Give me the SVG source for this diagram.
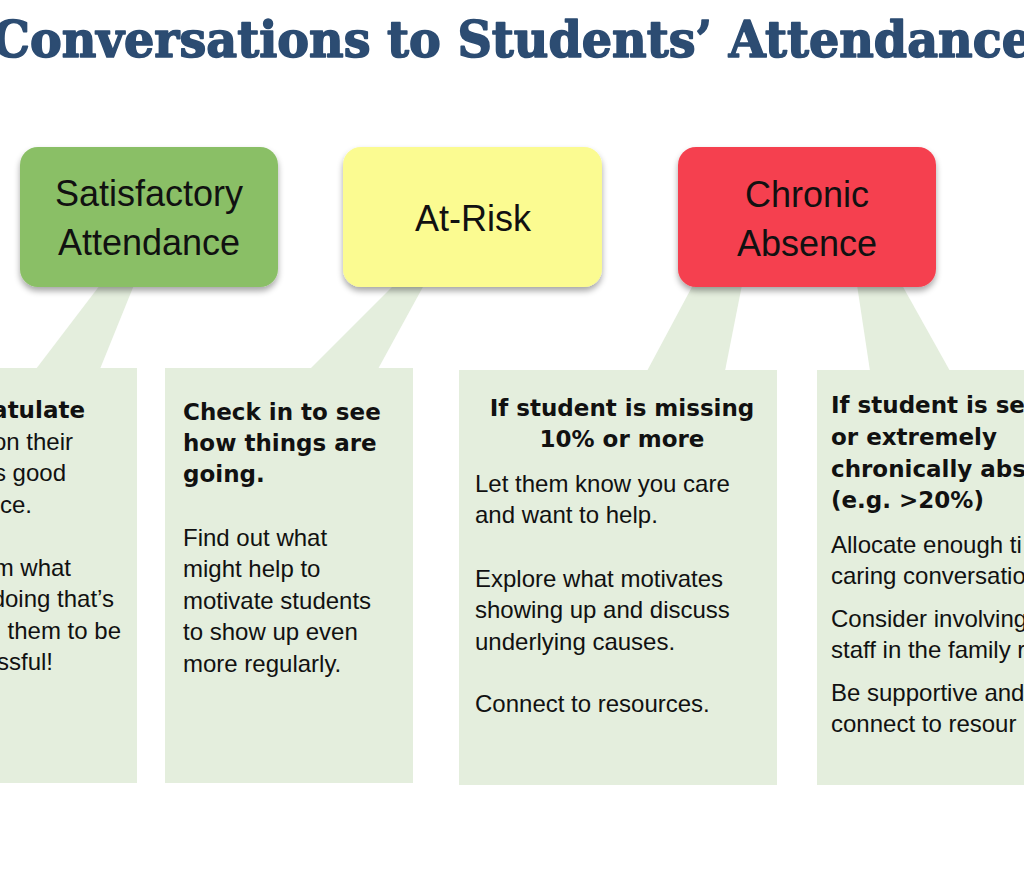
<svg xmlns="http://www.w3.org/2000/svg" width="1024" height="891" viewBox="0 0 1024 891">
<defs>
<filter id="sh" x="-10%" y="-10%" width="120%" height="130%">
<feGaussianBlur in="SourceAlpha" stdDeviation="3"/>
<feOffset dy="4" result="b"/>
<feComponentTransfer><feFuncA type="linear" slope="0.35"/></feComponentTransfer>
<feMerge><feMergeNode/><feMergeNode in="SourceGraphic"/></feMerge>
</filter>
<style>
.title{font-family:"DejaVu Serif","Liberation Serif",serif;font-weight:bold;font-size:50px;fill:#2C4C72;stroke:#2C4C72;stroke-width:1.6px;stroke-linejoin:round}
.lbl{font-family:"Liberation Sans",Arial,sans-serif;font-size:36px;fill:#111;text-anchor:middle}
.panel{fill:#E4EEDD}
.conn{fill:#E4EEDD}
.b{font-family:"DejaVu Sans","Liberation Sans",sans-serif;font-weight:bold;font-size:23px;fill:#111}
.r{font-family:"Liberation Sans",Arial,sans-serif;font-size:24px;fill:#111}
.e{text-anchor:end}
.m{text-anchor:middle}
</style>
</defs>
<rect width="1024" height="891" fill="#ffffff"/>
<text class="title" x="-8" y="57" textLength="1040" lengthAdjust="spacingAndGlyphs">Conversations to Students’ Attendance</text>

<g id="connectors">
<polygon class="conn" points="100,285 134,285 100,369 36,369"/>
<polygon class="conn" points="394,285 424,285 378,369 310,369"/>
<polygon class="conn" points="693,285 742,285 725,371 647,371"/>
<polygon class="conn" points="857,285 902,285 950,371 870,371"/>
</g>

<g id="satisfactory">
<rect x="20" y="147" width="258" height="140" rx="18" fill="#8ABF66" filter="url(#sh)"/>
<text class="lbl" x="149" y="206">Satisfactory</text>
<text class="lbl" x="149" y="255">Attendance</text>
</g>
<g id="at-risk">
<rect x="343" y="147" width="259" height="140" rx="18" fill="#FBFB91" filter="url(#sh)"/>
<text class="lbl" x="473" y="231">At-Risk</text>
</g>
<g id="chronic">
<rect x="678" y="147" width="258" height="140" rx="18" fill="#F5404F" filter="url(#sh)"/>
<text class="lbl" x="807" y="207">Chronic</text>
<text class="lbl" x="807" y="256">Absence</text>
</g>

<g id="panel-satisfactory">
<rect class="panel" x="0" y="368" width="137" height="415"/>
<text class="b e" x="85" y="418">atulate</text>
<text class="r e" x="73" y="450">on their</text>
<text class="r e" x="66" y="481">s good</text>
<text class="r e" x="32" y="513">nce.</text>
<text class="r e" x="71" y="576">m what</text>
<text class="r e" x="114" y="607">doing that’s</text>
<text class="r e" x="121" y="639">them to be</text>
<text class="r e" x="53" y="670">ssful!</text>
</g>

<g id="panel-at-risk">
<rect class="panel" x="165" y="368" width="248" height="415"/>
<text class="b" x="183" y="420">Check in to see</text>
<text class="b" x="183" y="451">how things are</text>
<text class="b" x="183" y="482">going.</text>
<text class="r" x="183" y="546">Find out what</text>
<text class="r" x="183" y="577">might help to</text>
<text class="r" x="183" y="609">motivate students</text>
<text class="r" x="183" y="640">to show up even</text>
<text class="r" x="183" y="672">more regularly.</text>
</g>

<g id="panel-chronic">
<rect class="panel" x="459" y="370" width="318" height="415"/>
<text class="b m" x="622" y="416">If student is missing</text>
<text class="b m" x="622" y="447">10% or more</text>
<text class="r" x="475" y="492">Let them know you care</text>
<text class="r" x="475" y="523">and want to help.</text>
<text class="r" x="475" y="587">Explore what motivates</text>
<text class="r" x="475" y="618">showing up and discuss</text>
<text class="r" x="475" y="650">underlying causes.</text>
<text class="r" x="475" y="712">Connect to resources.</text>
</g>

<g id="panel-severe">
<rect class="panel" x="817" y="370" width="207" height="415"/>
<text class="b" x="831" y="413">If student is se</text>
<text class="b" x="831" y="445">or extremely</text>
<text class="b" x="831" y="477">chronically abs</text>
<text class="b" x="831" y="508">(e.g. &gt;20%)</text>
<text class="r" x="831" y="553">Allocate enough ti</text>
<text class="r" x="831" y="584">caring conversatio</text>
<text class="r" x="831" y="627">Consider involving</text>
<text class="r" x="831" y="658">staff in the family r</text>
<text class="r" x="831" y="701">Be supportive and</text>
<text class="r" x="831" y="732">connect to resour</text>
</g>
</svg>
